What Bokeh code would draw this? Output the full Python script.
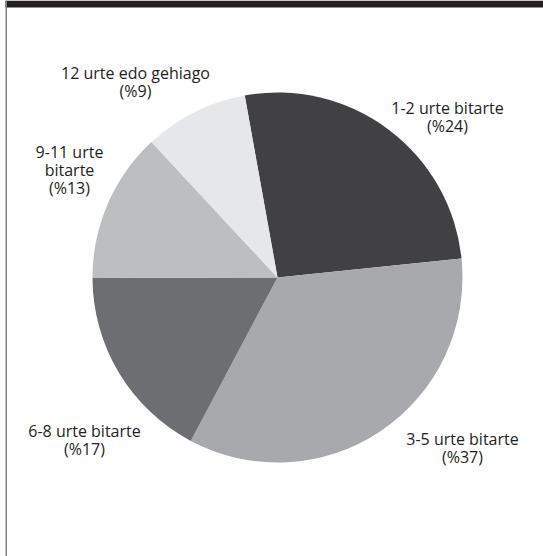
import math
from bokeh.plotting import figure
from bokeh.models import Range1d
from bokeh.embed import file_html
from bokeh.resources import INLINE
from bokeh.core.properties import value

# ---- data ----
categories = ["1-2 urte bitarte", "3-5 urte bitarte", "6-8 urte bitarte",
              "9-11 urte bitarte", "12 urte edo gehiago"]
percents = [24, 37, 17, 13, 9]          # values printed in the labels
slice_shares = [26.2, 34.4, 17.2, 13.1, 9.1]  # slice sizes as drawn in the picture
label_texts = ["1-2 urte bitarte\n(%24)", "3-5 urte bitarte\n(%37)",
               "6-8 urte bitarte\n(%17)", "9-11 urte\nbitarte\n(%13)",
               "12 urte edo gehiago\n(%9)"]
colors = ["#414042", "#a7a9ac", "#6d6e71", "#bcbec0", "#e6e7e8"]

# ---- layout (page pixel coordinates) ----
W, H = 543, 556
cx, cy, R = 277, 277, 185
start_deg = 100.2  # bokeh angle where first slice starts (clockwise)
label_pos = [(447, 116.5), (462, 447), (84, 439), (69, 169.5), (135, 81.5)]
LS = 18.0  # line spacing

p = figure(width=W, height=H, output_backend="svg", toolbar_location=None,
           x_range=Range1d(0, W), y_range=Range1d(-H, 0),
           min_border=0, min_border_left=0, min_border_right=0,
           min_border_top=0, min_border_bottom=0)
p.axis.visible = False
p.grid.visible = False
p.outline_line_color = None
p.background_fill_color = "white"
p.border_fill_color = "white"

# frame decoration
p.quad(left=5, right=W, top=0, bottom=-7, fill_color="#231f20", line_color=None)
p.quad(left=5, right=6.5, top=0, bottom=-H, fill_color="#808080", line_color=None)

total = sum(slice_shares)
starts, ends = [], []
acc = 0.0
for v in slice_shares:
    s = math.radians(start_deg - acc / total * 360)
    e = math.radians(start_deg - (acc + v) / total * 360)
    starts.append(s)
    ends.append(e)
    acc += v

p.wedge(x=[cx] * len(slice_shares), y=[-cy] * len(slice_shares), radius=R,
        start_angle=starts, end_angle=ends, direction="clock",
        fill_color=colors, line_color=None)

tx, ty, tt = [], [], []
for (lx, ly), txt in zip(label_pos, label_texts):
    lines = txt.split("\n")
    n = len(lines)
    for i, ln in enumerate(lines):
        tx.append(lx)
        ty.append(-(ly - (n - 1) / 2 * LS + i * LS))
        tt.append(ln)

p.text(x=tx, y=ty, text=tt, text_align="center", text_baseline="middle",
       text_font=value("Open Sans"), text_font_size="16px",
       text_color="#231f20")

open("out.html", "w").write(file_html(p, INLINE))
